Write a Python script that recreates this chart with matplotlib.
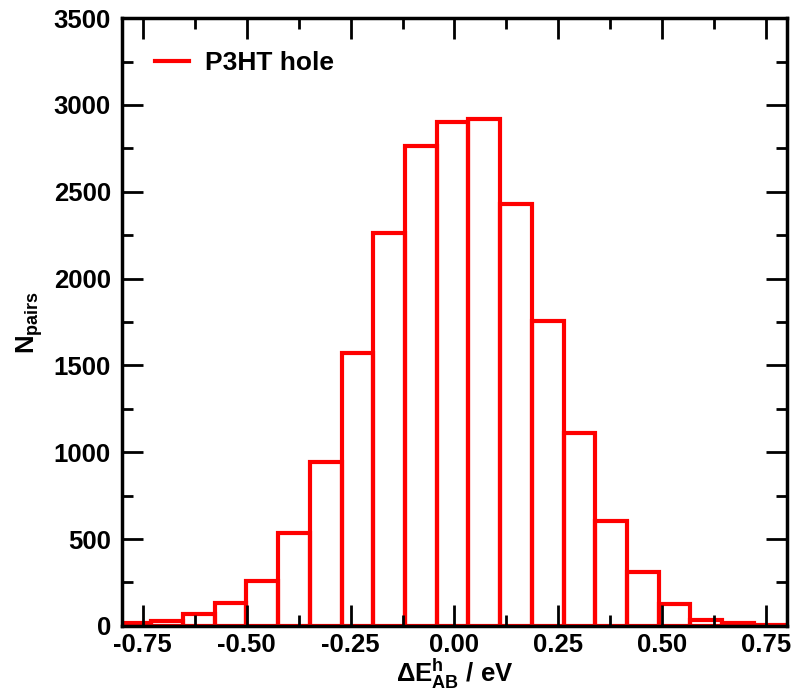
import numpy as np
import matplotlib
matplotlib.use('Agg')
import matplotlib.pyplot as plt
from matplotlib.ticker import MultipleLocator
from matplotlib.lines import Line2D

# histogram of site energy differences
edge_lo = -0.806
edge_hi = 0.797
counts = [15, 31, 71, 134, 259, 534, 946, 1572, 2262, 2763, 2903,
          2917, 2428, 1756, 1111, 606, 309, 127, 35, 19, 8]
label = 'P3HT hole'

edges = np.linspace(edge_lo, edge_hi, len(counts) + 1)
widths = np.diff(edges)

plt.rcParams['font.family'] = ['Liberation Sans', 'DejaVu Sans']
plt.rcParams['font.weight'] = 'bold'
plt.rcParams['mathtext.fontset'] = 'custom'
plt.rcParams['mathtext.rm'] = 'Liberation Sans:bold'
plt.rcParams['mathtext.bf'] = 'Liberation Sans:bold'
plt.rcParams['mathtext.it'] = 'Liberation Sans:bold'

fig = plt.figure(figsize=(7.98, 6.97), dpi=100)
ax = fig.add_axes([0.153, 0.102, 0.833, 0.872])

ax.bar(edges[:-1], counts, width=widths, align='edge', fill=False,
       edgecolor='#ff0000', linewidth=3)

ax.set_xlim(-0.8, 0.8)
ax.set_ylim(0, 3500)
ax.xaxis.set_major_locator(MultipleLocator(0.25))
ax.xaxis.set_minor_locator(MultipleLocator(0.125))
ax.yaxis.set_major_locator(MultipleLocator(500))
ax.yaxis.set_minor_locator(MultipleLocator(250))
ax.xaxis.set_major_formatter(plt.FuncFormatter(lambda v, p: '%.2f' % v))

ax.tick_params(which='both', direction='in', top=True, right=True, width=2)
ax.tick_params(which='major', length=15, labelsize=18.5)
ax.tick_params(axis='x', which='major', pad=5)
ax.tick_params(axis='y', which='major', pad=8)
ax.tick_params(which='minor', length=8)
for s in ax.spines.values():
    s.set_linewidth(2.5)

ax.set_xlabel(r'$\Delta$E$_{\mathrm{AB}}^{\mathrm{h}}$ / eV', fontsize=18.5, fontweight='bold', labelpad=0)
ax.set_ylabel(r'N$_{\mathrm{pairs}}$', fontsize=18.5, fontweight='bold', labelpad=6)

ax.legend(handles=[Line2D([], [], color='#ff0000', lw=3)], labels=[label],
          loc='upper left', frameon=False, handlelength=1.3,
          borderaxespad=0.85, handletextpad=0.6, prop={'weight': 'bold', 'size': 19})

fig.savefig('out.png', dpi=100)
